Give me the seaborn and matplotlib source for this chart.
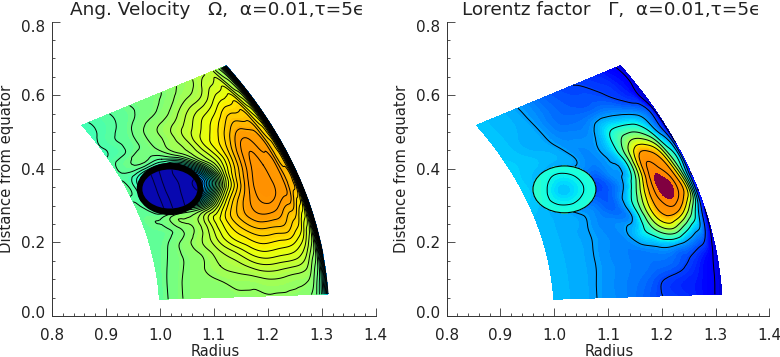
import numpy as np
import matplotlib
matplotlib.use("Agg")
import matplotlib.pyplot as plt
import matplotlib.tri as mtri
from matplotlib.colors import ListedColormap, Normalize
from matplotlib.patches import Ellipse
from matplotlib.ticker import MultipleLocator, FormatStrFormatter
from matplotlib.transforms import ScaledTranslation
import seaborn as sns

# Sample nodes of the fields (radius, angle above the equator in degrees)
radius_nodes = [1.00, 1.03, 1.06, 1.09, 1.12, 1.15, 1.18, 1.21, 1.24, 1.26, 1.275, 1.285, 1.295, 1.305, 1.313]
theta_nodes = [2.6, 5, 7, 9, 11, 13, 15, 17, 19, 21, 23, 25, 27, 29, 31.2]

# Angular velocity, one row per angle
omega_values = [
    [.466, .495, .513, .52, .522, .524, .525, .526, .525, .523, .515, .50, .47, .40, .28],
    [.466, .494, .512, .52, .53, .54, .545, .555, .55, .545, .54, .525, .49, .42, .27],
    [.466, .49, .51, .527, .55, .565, .59, .605, .60, .595, .58, .555, .52, .44, .26],
    [.466, .485, .51, .53, .565, .60, .635, .655, .65, .645, .625, .60, .56, .47, .25],
    [.466, .479, .508, .54, .585, .64, .675, .70, .70, .695, .67, .645, .60, .51, .25],
    [.47, .475, .50, .53, .59, .655, .71, .745, .75, .73, .71, .69, .65, .55, .25],
    [.47, .478, .50, .505, .525, .61, .70, .755, .785, .77, .755, .735, .70, .60, .25],
    [.47, .40, .25, .25, .25, .45, .63, .73, .795, .78, .76, .745, .72, .62, .25],
    [.46, .40, .25, .25, .25, .33, .575, .70, .78, .775, .76, .74, .70, .60, .25],
    [.465, .40, .30, .30, .32, .48, .59, .68, .765, .765, .75, .73, .69, .58, .25],
    [.455, .475, .47, .46, .51, .56, .62, .67, .735, .745, .735, .71, .67, .56, .25],
    [.445, .462, .485, .505, .535, .57, .61, .645, .69, .705, .70, .685, .64, .54, .25],
    [.435, .455, .475, .505, .53, .55, .58, .61, .64, .66, .665, .65, .60, .51, .25],
    [.43, .45, .465, .485, .50, .515, .54, .56, .585, .61, .62, .605, .56, .48, .25],
    [.43, .445, .46, .475, .49, .498, .51, .53, .55, .57, .58, .57, .53, .45, .25],
]

# Lorentz factor, one row per angle
gamma_values = [
    [.31, .30, .29, .275, .26, .24, .21, .185, .17, .155, .14, .125, .11, .09, .08],
    [.31, .30, .29, .276, .26, .245, .225, .195, .175, .16, .145, .13, .115, .095, .08],
    [.31, .30, .29, .278, .262, .25, .24, .235, .215, .19, .165, .145, .125, .10, .08],
    [.31, .30, .29, .278, .26, .25, .26, .285, .29, .265, .235, .215, .19, .125, .08],
    [.31, .30, .29, .28, .262, .265, .33, .44, .55, .47, .38, .33, .28, .17, .09],
    [.31, .30, .29, .28, .255, .255, .30, .57, .75, .74, .63, .52, .38, .22, .10],
    [.31, .30, .29, .275, .245, .22, .33, .60, .84, .885, .82, .73, .60, .32, .10],
    [.32, .30, .26, .22, .21, .21, .28, .52, .86, .89, .82, .72, .55, .30, .10],
    [.33, .31, .25, .22, .21, .215, .27, .40, .82, .81, .74, .62, .45, .33, .12],
    [.33, .31, .27, .25, .27, .25, .28, .41, .72, .71, .62, .48, .36, .28, .10],
    [.33, .32, .31, .30, .28, .26, .29, .40, .52, .49, .41, .33, .26, .18, .09],
    [.325, .315, .30, .29, .265, .26, .27, .34, .345, .33, .30, .27, .235, .17, .08],
    [.32, .31, .295, .285, .25, .235, .235, .245, .24, .215, .195, .18, .16, .10, .07],
    [.32, .31, .30, .282, .25, .225, .21, .205, .195, .18, .165, .15, .135, .105, .07],
    [.32, .31, .30, .28, .25, .22, .20, .19, .175, .16, .145, .13, .115, .095, .07],
]

# The round inclusion at r~1.08
disk_center = (1.0185, 0.345)
disk_ring_radii = (0.0615, 0.071)
disk_core_radii = (0.051, 0.053)
gamma_disk_center = (1.019, 0.344)
gamma_disk_radii = (0.0586, 0.0637)
disk_x = [0.95, 0.98, 1.01, 1.04, 1.07, 1.10]
disk_y = [0.27, 0.30, 0.33, 0.36, 0.39, 0.42]
omega_disk = [
    [.01, .027, .047, .064, .073, .078],
    [.012, .033, .053, .068, .075, .079],
    [.018, .038, .058, .070, .077, .079],
    [.024, .043, .062, .072, .083, .079],
    [.03, .049, .065, .074, .077, .079],
    [.035, .054, .068, .075, .078, .079],
]
gamma_disk = [
    [.40, .40, .40, .40, .40, .40],
    [.40, .39, .373, .38, .40, .40],
    [.40, .385, .33, .35, .39, .40],
    [.40, .385, .335, .352, .39, .40],
    [.40, .39, .374, .383, .40, .40],
    [.40, .40, .40, .40, .40, .40],
]

omega_lines = [0.10 + 0.0225 * k for k in range(31)]
gamma_lines = [0.10, 0.19, 0.28, 0.37, 0.46, 0.55, 0.64, 0.73, 0.82]
omega_disk_lines = [0.05, 0.06, 0.07, 0.08]
gamma_disk_lines = [0.37]
titles = ["Ang. Velocity   \u03a9,  \u03b1=0.01,\u03c4=5\u03f5", "Lorentz factor   \u0393,  \u03b1=0.01,\u03c4=5\u03f5"]

sns.set_theme(style="ticks", rc={"font.family": ["DejaVu Sans"]})
jet = matplotlib.colormaps["jet"]
t = np.linspace(0, 1, 512)
rgba = jet(np.minimum(t, 0.75))
rgba[t > 0.75, 1] = np.interp(t[t > 0.75], [0.75, 0.9], [0.60, 0.5])
cmap = ListedColormap(rgba)
cmap.set_over("#800040")

R, TH = np.meshgrid(radius_nodes, np.radians(theta_nodes))
nr, nt = len(radius_nodes), len(theta_nodes)
tris = []
for j in range(nt - 1):
    for i in range(nr - 1):
        a = j * nr + i
        tris += [[a, a + 1, a + nr], [a + 1, a + nr + 1, a + nr]]
tris = np.array(tris)


def polar_field(values, center, radii):
    z = np.array(values, float).ravel()
    base = mtri.Triangulation(R.ravel(), TH.ravel(), tris)
    nx, ny = R.ravel() * np.cos(TH.ravel()), R.ravel() * np.sin(TH.ravel())
    inside = ((nx - center[0]) / radii[0]) ** 2 + ((ny - center[1]) / radii[1]) ** 2 < 0.95
    base.set_mask(inside[tris].all(axis=1))
    interp = mtri.CubicTriInterpolator(base, z, kind="min_E")
    fine, zf = mtri.UniformTriRefiner(base).refine_field(z, triinterpolator=interp, subdiv=3)
    mapped = mtri.Triangulation(fine.x * np.cos(fine.y), fine.x * np.sin(fine.y), fine.triangles, mask=fine.mask)
    return mapped, zf


def local_field(values, center, radii):
    X, Y = np.meshgrid(disk_x, disk_y)
    tr = mtri.Triangulation(X.ravel(), Y.ravel())
    z = np.array(values, float).ravel()
    interp = mtri.CubicTriInterpolator(tr, z, kind="min_E")
    fine, zf = mtri.UniformTriRefiner(tr).refine_field(z, triinterpolator=interp, subdiv=4)
    cx = fine.x[fine.triangles].mean(axis=1)
    cy = fine.y[fine.triangles].mean(axis=1)
    fine.set_mask(((cx - center[0]) / radii[0]) ** 2 + ((cy - center[1]) / radii[1]) ** 2 > 1)
    return fine, zf


W, H = 780, 357
fig = plt.figure(figsize=(W / 100, H / 100), dpi=100, facecolor="white")
ax1 = fig.add_axes([52 / W, 1 - 316 / H, 323.7 / W, 294.5 / H])
ax2 = fig.add_axes([446.7 / W, 1 - 316 / H, 322.6 / W, 294.5 / H])

# Angular velocity panel
fine, zf = polar_field(omega_values, disk_center, disk_ring_radii)
norm1 = Normalize(0.0, 1.0)
ax1.tricontourf(fine, zf, levels=np.arange(-0.05, 1.0, 0.0125), cmap=cmap, norm=norm1)
ax1.tricontour(fine, zf, levels=omega_lines, colors="black", linewidths=0.7)
ax1.add_patch(Ellipse(disk_center, 2 * disk_ring_radii[0], 2 * disk_ring_radii[1], fc="black", ec="none", zorder=3))
ax1.add_patch(Ellipse(disk_center, 2 * disk_core_radii[0], 2 * disk_core_radii[1], fc="#0808b0", ec="none", zorder=4))
fine_d, zd = local_field(omega_disk, disk_center, disk_core_radii)
ax1.tricontour(fine_d, zd, levels=omega_disk_lines, colors="#000030", linewidths=0.7, zorder=5)

# Lorentz factor panel
fine, zf = polar_field(gamma_values, gamma_disk_center, gamma_disk_radii)
norm2 = Normalize(0, 1)
ax2.tricontourf(fine, zf, levels=np.arange(0, 0.8751, 0.0125), cmap=cmap, norm=norm2, extend="max")
ax2.tricontour(fine, zf, levels=gamma_lines, colors="black", linewidths=0.7)
ax2.add_patch(Ellipse(gamma_disk_center, 2 * gamma_disk_radii[0], 2 * gamma_disk_radii[1], fc="#00e6ff", ec="none", zorder=3))
ax2.add_patch(Ellipse(gamma_disk_center, 2 * gamma_disk_radii[0], 2 * gamma_disk_radii[1], fc="none", ec="black", lw=0.8, zorder=6))
fine_d, zd = local_field(gamma_disk, gamma_disk_center, gamma_disk_radii)
ax2.tricontourf(fine_d, zd, levels=np.arange(0.28, 0.42, 0.0125), cmap=cmap, norm=norm2, zorder=4)
ax2.tricontour(fine_d, zd, levels=gamma_disk_lines, colors="black", linewidths=0.7, zorder=5)

for ax, title in zip((ax1, ax2), titles):
    ax.set_xlim(0.8, 1.4)
    ax.set_ylim(0.0, 0.8)
    ax.xaxis.set_major_locator(MultipleLocator(0.1))
    ax.xaxis.set_minor_locator(MultipleLocator(0.02))
    ax.yaxis.set_major_locator(MultipleLocator(0.2))
    ax.yaxis.set_minor_locator(MultipleLocator(0.05))
    ax.xaxis.set_major_formatter(FormatStrFormatter("%.1f"))
    ax.yaxis.set_major_formatter(FormatStrFormatter("%.1f"))
    ax.tick_params(which="major", direction="in", length=5.5, width=0.6, color="#333333", labelsize=11, labelcolor="#222222")
    ax.tick_params(axis="x", which="major", pad=8.5)
    ax.tick_params(axis="y", which="major", pad=5)
    ax.tick_params(which="minor", direction="in", length=2.5, width=0.6, color="#333333")
    sns.despine(ax=ax)
    for s in ("left", "bottom"):
        ax.spines[s].set_linewidth(0.7)
        ax.spines[s].set_color("#333333")
    ax.set_xlabel("Radius", fontsize=10.5, color="#222222")
    ax.xaxis.set_label_coords(0.505, (316 - 343.5) / 294.5)
    ax.set_ylabel("Distance from equator", fontsize=10.7, color="#222222")
    ax.yaxis.set_label_coords(-37.5 / 323.7, 0.5)
    ax.set_title(title, fontsize=13.3, color="#222222", pad=5, x=0.51)
    for lab in ax.get_yticklabels():
        v = lab.get_position()[1]
        if abs(v) < 1e-6:
            lab.set_transform(lab.get_transform() + ScaledTranslation(0, 3 / 72, fig.dpi_scale_trans))
        elif abs(v - 0.8) < 1e-6:
            lab.set_transform(lab.get_transform() + ScaledTranslation(0, -3.5 / 72, fig.dpi_scale_trans))

fig.savefig("out.png", dpi=100)
